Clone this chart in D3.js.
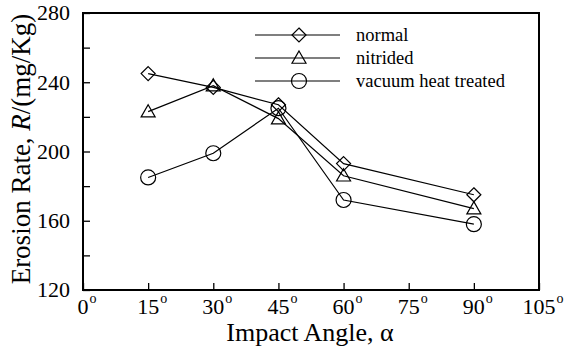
<!DOCTYPE html>
<html><head><meta charset="utf-8">
<script src="https://cdn.jsdelivr.net/npm/d3@7"></script>
<style>body{margin:0;background:#fff}svg{display:block}</style>
</head><body>
<svg id="c" width="564" height="347"></svg>
<script>
const angles = [15, 30, 45, 60, 90];
const normal = [245, 237, 227, 193, 175];
const nitrided = [223, 238, 219, 186, 167];
const vacuum = [185, 199, 225, 172, 158];
const seriesNames = ["normal", "nitrided", "vacuum heat treated"];
const seriesSymbols = ["diamond", "triangle", "circle"];
const xTicks = [0, 15, 30, 45, 60, 75, 90, 105];
const yTicks = [120, 160, 200, 240, 280];
const yMinorTicks = [140, 180, 220, 260];

const svg = d3.select("#c");
const font = "'Liberation Serif','Times New Roman',serif";
const m = {l: 83, r: 539, t: 13, b: 290};
const x = d3.scaleLinear().domain([0, 105]).range([m.l, m.r]);
const y = d3.scaleLinear().domain([120, 280]).range([m.b, m.t]);

// frame
svg.append("rect").attr("x", m.l).attr("y", m.t).attr("width", m.r - m.l).attr("height", m.b - m.t)
  .attr("fill", "none").attr("stroke", "#000").attr("stroke-width", 2);

// x axis ticks (inward)
const xa = svg.append("g").attr("transform", `translate(0,${m.b})`)
  .call(d3.axisBottom(x).tickValues(xTicks).tickSizeInner(-7).tickSizeOuter(0).tickFormat(""));
xa.select(".domain").remove();
xa.selectAll("line").attr("stroke-width", 1.3);
const xl = svg.append("g");
xTicks.forEach(v => {
  const t = xl.append("text").attr("x", x(v) + 4).attr("y", 314).attr("text-anchor", "middle")
    .attr("font-family", font).attr("font-size", 22).attr("fill", "#000");
  t.append("tspan").text(v);
  t.append("tspan").attr("dx", 1).attr("dy", -11).attr("font-size", 14).text("o");
});

// y axis ticks
const ya = svg.append("g").attr("transform", `translate(${m.l},0)`)
  .call(d3.axisLeft(y).tickValues(yTicks.concat(yMinorTicks)).tickSizeInner(-7).tickSizeOuter(0).tickFormat(""));
ya.select(".domain").remove();
ya.selectAll("line").attr("stroke-width", 1.3);
yTicks.forEach(v => {
  svg.append("text").attr("x", 70).attr("y", y(v)).attr("dy", "0.33em").attr("text-anchor", "end")
    .attr("font-family", font).attr("font-size", 22).attr("fill", "#000").text(v);
});

// axis titles
svg.append("text").attr("x", 310).attr("y", 341).attr("text-anchor", "middle")
  .attr("font-family", font).attr("font-size", 26).attr("fill", "#000").text("Impact Angle, α");
const yt = svg.append("text").attr("transform", `translate(30,149) rotate(-90)`).attr("text-anchor", "middle")
  .attr("font-family", font).attr("font-size", 27).attr("fill", "#000");
yt.append("tspan").text("Erosion Rate, ");
yt.append("tspan").attr("font-style", "italic").text("R");
yt.append("tspan").text("/(mg/Kg)");

const data = [normal, nitrided, vacuum];
function drawSymbol(g, kind, cx, cy) {
  if (kind === "diamond") {
    const s = 7;
    g.append("path").attr("d", `M${cx},${cy - s}L${cx + s},${cy}L${cx},${cy + s}L${cx - s},${cy}Z`)
      .attr("fill", "none").attr("stroke", "#000").attr("stroke-width", 1.2);
  } else if (kind === "triangle") {
    const s = 7;
    g.append("path").attr("d", `M${cx},${cy - s}L${cx + s},${cy + s * 0.75}L${cx - s},${cy + s * 0.75}Z`)
      .attr("fill", "none").attr("stroke", "#000").attr("stroke-width", 1.2);
  } else {
    g.append("circle").attr("cx", cx).attr("cy", cy).attr("r", 7.5)
      .attr("fill", "none").attr("stroke", "#000").attr("stroke-width", 1.2);
  }
}
const line = d3.line().x((d, i) => x(angles[i])).y(d => y(d));
data.forEach((vals, k) => {
  svg.append("path").attr("d", line(vals)).attr("fill", "none").attr("stroke", "#000").attr("stroke-width", 1.2);
  const g = svg.append("g");
  vals.forEach((v, i) => drawSymbol(g, seriesSymbols[k], x(angles[i]), y(v)));
});

// legend
const ly = [35, 58, 81];
seriesNames.forEach((n, k) => {
  svg.append("line").attr("x1", 255).attr("x2", 340).attr("y1", ly[k]).attr("y2", ly[k])
    .attr("stroke", "#000").attr("stroke-width", 1.2);
  drawSymbol(svg.append("g"), seriesSymbols[k], 299, ly[k]);
  svg.append("text").attr("x", 356).attr("y", ly[k]).attr("dy", "0.33em")
    .attr("font-family", font).attr("font-size", 18.5).attr("fill", "#000").text(n);
});
</script>
</body></html>
